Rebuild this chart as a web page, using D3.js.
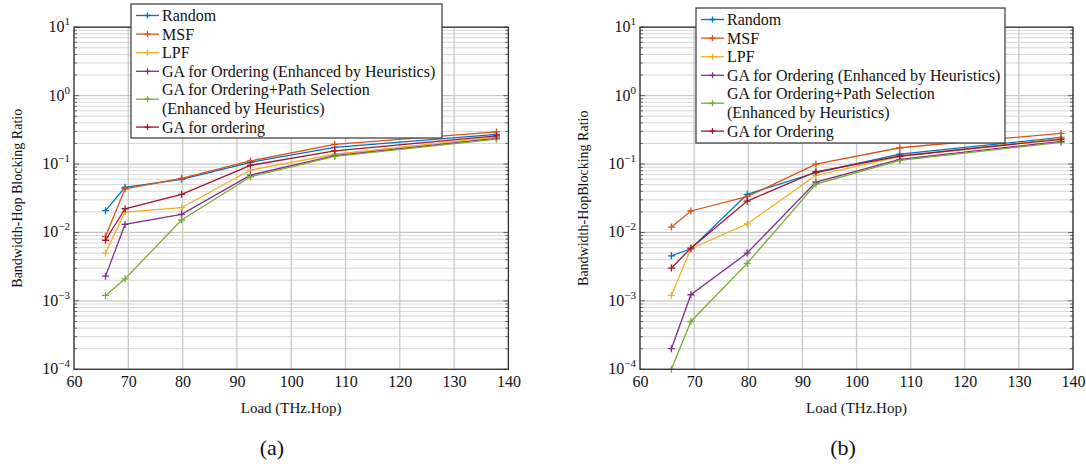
<!DOCTYPE html>
<html>
<head>
<meta charset="utf-8">
<script src="https://cdn.jsdelivr.net/npm/d3@7"></script>
<style>
  body { margin: 0; background: #fff; }
  svg text { fill: #111; }
</style>
</head>
<body>
<div id="chart"></div>
<script>
// loads (x values), same for both panels
const loads = [65.8, 69.4, 79.8, 92.5, 108, 137.8];

// panel (a)
const randomA   = [0.0208, 0.0456, 0.0597, 0.106, 0.175, 0.272];
const msfA      = [0.0087, 0.0435, 0.0618, 0.111, 0.194, 0.295];
const lpfA      = [0.0050, 0.0199, 0.0230, 0.0817, 0.139, 0.247];
const gaEnhA    = [0.0023, 0.0131, 0.0184, 0.069, 0.133, 0.237];
const gaPathA   = [0.0012, 0.0021, 0.0152, 0.0652, 0.129, 0.231];
const gaOrdA    = [0.0077, 0.0222, 0.0361, 0.0957, 0.156, 0.258];

// panel (b)
const randomB   = [0.00456, 0.00578, 0.0361, 0.0746, 0.140, 0.245];
const msfB      = [0.0120, 0.0206, 0.0333, 0.100, 0.173, 0.281];
const lpfB      = [0.0012, 0.0058, 0.0133, 0.0684, 0.128, 0.238];
const gaEnhB    = [0.0002, 0.00123, 0.0050, 0.0546, 0.117, 0.215];
const gaPathB   = [0.0001, 0.0005, 0.00353, 0.051, 0.113, 0.208];
const gaOrdB    = [0.00302, 0.0059, 0.0288, 0.0771, 0.131, 0.230];

const xTicks = [60, 70, 80, 90, 100, 110, 120, 130, 140];
const yDecades = [-4, -3, -2, -1, 0, 1];

const colors = ["#0072BD", "#D95319", "#EDB120", "#7E2F8E", "#77AC30", "#A2142F"];
const namesA = ["Random", "MSF", "LPF", "GA for Ordering (Enhanced by Heuristics)",
  ["GA for Ordering+Path Selection", "(Enhanced by Heuristics)"], "GA for ordering"];
const namesB = ["Random", "MSF", "LPF", "GA for Ordering (Enhanced by Heuristics)",
  ["GA for Ordering+Path Selection", "(Enhanced by Heuristics)"], "GA for Ordering"];

const FONT = "'Liberation Serif', 'Times New Roman', Times, 'DejaVu Serif', serif";

const svg = d3.select("#chart").append("svg")
  .attr("width", 1086).attr("height", 468)
  .attr("font-family", FONT);

function drawPanel(p) {
  const x = d3.scaleLinear().domain([60, 140]).range([p.left, p.right]);
  const y = d3.scaleLog().domain([1e-4, 10]).range([369.3, 27.2]);
  const g = svg.append("g");

  // grid: minor y
  const minor = [];
  for (let e = -4; e < 1; e++) for (let k = 2; k < 10; k++) minor.push(k * Math.pow(10, e));
  g.selectAll(".ymin").data(minor).enter().append("line")
    .attr("x1", x(60)).attr("x2", x(140))
    .attr("y1", d => y(d)).attr("y2", d => y(d))
    .attr("stroke", "#d6d6d6").attr("stroke-width", 1);
  // grid: major
  g.selectAll(".ymaj").data(yDecades).enter().append("line")
    .attr("x1", x(60)).attr("x2", x(140))
    .attr("y1", d => y(Math.pow(10, d))).attr("y2", d => y(Math.pow(10, d)))
    .attr("stroke", "#c4c4c4").attr("stroke-width", 1.3);
  g.selectAll(".xg").data(xTicks).enter().append("line")
    .attr("x1", d => x(d)).attr("x2", d => x(d))
    .attr("y1", y(10)).attr("y2", y(1e-4))
    .attr("stroke", "#c8c8c8").attr("stroke-width", 1.3);

  // inner ticks on left and right
  [x(60), x(140)].forEach((ex, i) => {
    const dir = i === 0 ? 1 : -1;
    g.selectAll(null).data(minor).enter().append("line")
      .attr("x1", ex).attr("x2", ex + dir * 3)
      .attr("y1", d => y(d)).attr("y2", d => y(d))
      .attr("stroke", "#444").attr("stroke-width", 0.8);
    g.selectAll(null).data(yDecades).enter().append("line")
      .attr("x1", ex).attr("x2", ex + dir * 5)
      .attr("y1", d => y(Math.pow(10, d))).attr("y2", d => y(Math.pow(10, d)))
      .attr("stroke", "#444").attr("stroke-width", 0.8);
  });

  // series
  const line = d3.line().x((d, i) => x(loads[i])).y(d => y(d));
  p.series.forEach((s, k) => {
    g.append("path").datum(s)
      .attr("fill", "none").attr("stroke", colors[k]).attr("stroke-width", 1.3)
      .attr("d", line);
    g.selectAll(null).data(s).enter().append("path")
      .attr("transform", (d, i) => `translate(${x(loads[i])},${y(d)})`)
      .attr("d", "M-3.5,0H3.5M0,-3.5V3.5")
      .attr("stroke", colors[k]).attr("stroke-width", 1.3);
  });

  // frame
  g.append("rect")
    .attr("x", x(60)).attr("y", y(10))
    .attr("width", x(140) - x(60)).attr("height", y(1e-4) - y(10))
    .attr("fill", "none").attr("stroke", "#333").attr("stroke-width", 1.3);

  // x tick labels
  g.append("g")
    .attr("transform", `translate(0,${y(1e-4)})`)
    .call(d3.axisBottom(x).tickValues(xTicks).tickSize(0).tickPadding(6))
    .attr("font-family", FONT).attr("font-size", 16)
    .call(a => a.select(".domain").remove())
    .selectAll("text").attr("fill", "#111");

  // y tick labels 10^e
  const yl = g.selectAll(".ylab").data(yDecades).enter().append("text")
    .attr("x", x(60) - 4).attr("y", d => y(Math.pow(10, d)) + 5)
    .attr("text-anchor", "end").attr("font-size", "16px");
  yl.append("tspan").text("10");
  yl.append("tspan").attr("dy", -7).attr("font-size", "11px")
    .text(d => d < 0 ? "\u2212" + (-d) : d);

  // axis labels
  g.append("text")
    .attr("x", (x(60) + x(140)) / 2).attr("y", 413)
    .attr("text-anchor", "middle").attr("font-size", "15px")
    .text("Load (THz.Hop)");
  g.append("text")
    .attr("transform", `translate(${p.ylabX},${(y(10) + y(1e-4)) / 2}) rotate(-90)`)
    .attr("text-anchor", "middle").attr("font-size", "14px")
    .text(p.ylabel);
  g.append("text")
    .attr("x", p.capX).attr("y", 455)
    .attr("text-anchor", "middle").attr("font-size", "22px")
    .text(p.caption);

  // legend
  const L = p.legend;
  g.append("rect")
    .attr("x", L.x).attr("y", L.y).attr("width", L.w).attr("height", L.h)
    .attr("fill", "#fff").attr("stroke", "#444").attr("stroke-width", 1.3);
  let row = 0;
  p.names.forEach((n, k) => {
    const lines = Array.isArray(n) ? n : [n];
    const cy = L.y + L.top + (row + (lines.length - 1) / 2) * L.step;
    g.append("line")
      .attr("x1", L.x + 5).attr("x2", L.x + 28).attr("y1", cy).attr("y2", cy)
      .attr("stroke", colors[k]).attr("stroke-width", 1.3);
    g.append("path")
      .attr("transform", `translate(${L.x + 16.5},${cy})`)
      .attr("d", "M-3,0H3M0,-3V3")
      .attr("stroke", colors[k]).attr("stroke-width", 1.3);
    lines.forEach((t, j) => {
      g.append("text")
        .attr("x", L.x + 31).attr("y", L.y + L.top + (row + j) * L.step + 5.5)
        .attr("font-size", "16px").text(t);
    });
    row += lines.length;
  });
}

drawPanel({
  left: 74, right: 508.4, ylabX: 22, capX: 272, caption: "(a)",
  ylabel: "Bandwidth-Hop Blocking Ratio",
  series: [randomA, msfA, lpfA, gaEnhA, gaPathA, gaOrdA], names: namesA,
  legend: { x: 131, y: 4, w: 311, h: 134, top: 11.5, step: 18.6 }
});
drawPanel({
  left: 640, right: 1073, ylabX: 588, capX: 843, caption: "(b)",
  ylabel: "Bandwidth-HopBlocking Ratio",
  series: [randomB, msfB, lpfB, gaEnhB, gaPathB, gaOrdB], names: namesB,
  legend: { x: 696, y: 8, w: 309, h: 135, top: 11.5, step: 18.6 }
});
</script>
</body>
</html>
